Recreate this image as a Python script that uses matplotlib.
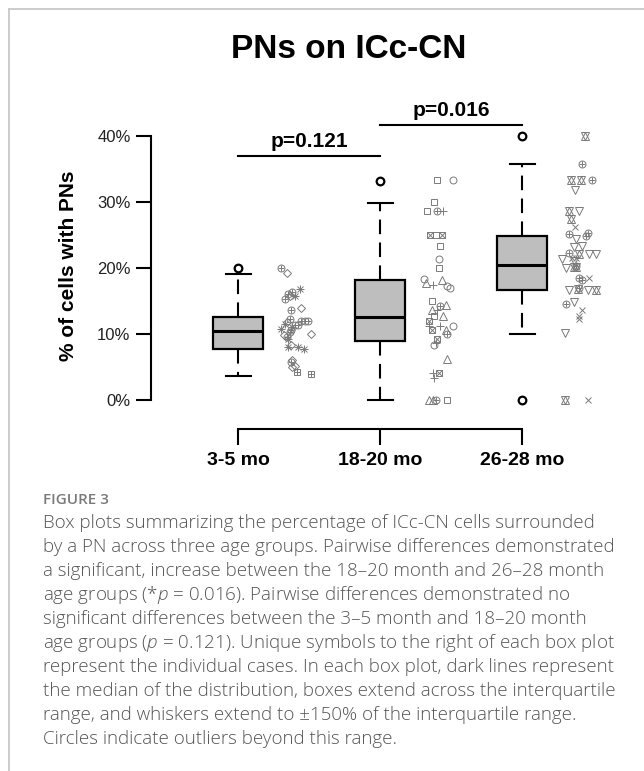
import matplotlib
matplotlib.use('Agg')
import matplotlib.pyplot as plt
from matplotlib.lines import Line2D

plt.rcParams['font.family'] = ['Liberation Sans', 'DejaVu Sans']
plt.rcParams['mathtext.fontset'] = 'custom'
plt.rcParams['mathtext.rm'] = 'Open Sans:light'
plt.rcParams['mathtext.it'] = 'Open Sans:italic:light'

# Age groups
groups = ['3-5 mo', '18-20 mo', '26-28 mo']

# Box plot summaries (% of cells with PNs)
q1 = [7.8, 9.0, 16.6]
medians = [10.5, 12.5, 20.5]
q3 = [12.6, 18.2, 24.9]
whisk_lo = [3.6, 0.0, 10.0]
whisk_hi = [19.1, 29.9, 35.7]
outliers = [[20.0], [33.2], [40.0, 0.0]]

# Individual cases, 3-5 mo
g1_vals = [20.0, 19.3, 16.8, 16.3, 16.0, 15.3, 13.7, 14.0, 11.8, 11.9, 11.9, 11.9,
           11.3, 10.8, 10.0, 10.3, 11.0, 9.5, 9.3, 8.1, 8.4, 8.1, 7.8, 6.1, 5.7,
           5.2, 4.2, 3.9, 15.8, 11.5, 11.3, 10.6, 9.9, 12.2, 5.0, 15.7]
g1_jitter = [0.30, 0.34, 0.43, 0.38, 0.35, 0.33, 0.37, 0.44, 0.34, 0.44, 0.47, 0.49,
             0.40, 0.30, 0.51, 0.36, 0.38, 0.34, 0.35, 0.35, 0.37, 0.42, 0.46, 0.38, 0.37,
             0.40, 0.41, 0.51, 0.40, 0.33, 0.42, 0.37, 0.32, 0.36, 0.38, 0.36]
g1_syms = ['cplus', 'diamond', 'ast', 'cplus', 'cplus', 'cplus', 'cplus', 'diamond', 'diamond',
           'cplus', 'cplus', 'cplus', 'cplus', 'ast', 'diamond', 'cplus', 'ast', 'cplus', 'ast',
           'ast', 'diamond', 'ast', 'ast', 'diamond', 'cplus', 'diamond', 'splus', 'splus',
           'ast', 'ast', 'cplus', 'cplus', 'diamond', 'cplus', 'diamond', 'diamond']

# Individual cases, 18-20 mo
g2_vals = [33.3, 33.3, 30.0, 28.6, 28.6, 28.6, 25.0, 25.0, 25.0, 23.4, 21.4, 20.0,
           18.4, 17.7, 17.4, 18.2, 17.3, 16.9, 15.0, 13.7, 13.7, 14.3, 14.4, 12.7,
           12.7, 12.0, 11.2, 10.6, 11.2, 11.2, 10.6, 10.0, 9.3, 8.7, 8.3, 6.2, 4.1,
           4.1, 3.4, 0.0, 0.0, 0.0, 0.0]
g2_jitter = [0.40, 0.51, 0.38, 0.33, 0.40, 0.44, 0.35, 0.39, 0.43, 0.42, 0.41, 0.41,
             0.31, 0.32, 0.37, 0.43, 0.47, 0.49, 0.36, 0.36, 0.40, 0.42, 0.46, 0.38,
             0.44, 0.34, 0.34, 0.36, 0.42, 0.51, 0.46, 0.47, 0.40, 0.39, 0.38, 0.47, 0.41,
             0.37, 0.38, 0.34, 0.37, 0.39, 0.47]
g2_syms = ['square', 'circle', 'square', 'square', 'cplus', 'plus', 'sqx', 'square', 'sqx',
           'square', 'circle', 'square', 'circle', 'tri', 'plus', 'tri', 'circle', 'circle',
           'square', 'tri', 'plus', 'cplus', 'tri', 'square', 'tri', 'sqx', 'plus', 'sqx',
           'plus', 'circle', 'tri', 'cplus', 'sqx', 'plus', 'circle', 'tri', 'sqx', 'plus',
           'plus', 'tri', 'tri', 'cplus', 'square']

# Individual cases, 26-28 mo
g3_vals = [40.0, 35.7, 33.3, 33.3, 33.3, 31.8, 28.7, 28.7, 27.4, 26.2, 25.1, 24.4,
           25.3, 24.9, 23.2, 23.4, 22.3, 22.1, 22.1, 22.1, 21.3, 21.5, 21.5, 20.0,
           20.2, 20.2, 18.5, 18.2, 18.5, 16.6, 16.8, 16.6, 16.6, 14.5, 14.8, 13.7,
           12.3, 10.1, 0.0, 0.0, 21.0, 20.3, 16.9, 12.8]
g3_jitter = [0.44, 0.42, 0.34, 0.41, 0.49, 0.37, 0.33, 0.40, 0.34, 0.37, 0.33, 0.38,
             0.46, 0.45, 0.36, 0.42, 0.33, 0.40, 0.47, 0.52, 0.28, 0.35, 0.38, 0.31,
             0.36, 0.38, 0.40, 0.42, 0.47, 0.33, 0.39, 0.46, 0.52, 0.31, 0.36, 0.42,
             0.40, 0.30, 0.30, 0.46, 0.36, 0.38, 0.40, 0.40]
g3_syms = ['star', 'cplus', 'star', 'star', 'cplus', 'tdown', 'star', 'tdown', 'star', 'x',
           'cplus', 'tdown', 'cplus', 'cplus', 'tdown', 'tdown', 'cplus', 'star', 'tdown',
           'tdown', 'tdown', 'x', 'x', 'tdown', 'star', 'star', 'cplus', 'cplus', 'x',
           'tdown', 'star', 'tdown', 'star', 'cplus', 'tdown', 'x', 'x', 'tdown', 'star',
           'x', 'tdown', 'cplus', 'cplus', 'x']

p_labels = ['p=0.121', 'p=0.016']
title = 'PNs on ICc-CN'
ylabel = '% of cells with PNs'
fig_label = 'FIGURE 3'
caption = [
    'Box plots summarizing the percentage of ICc-CN cells surrounded',
    'by a PN across three age groups. Pairwise differences demonstrated',
    'a significant, increase between the 18\u201320 month and 26\u201328 month',
    'age groups (*$p$ = 0.016). Pairwise differences demonstrated no',
    'significant differences between the 3\u20135 month and 18\u201320 month',
    'age groups ($p$ = 0.121). Unique symbols to the right of each box plot',
    'represent the individual cases. In each box plot, dark lines represent',
    'the median of the distribution, boxes extend across the interquartile',
    'range, and whiskers extend to \u00b1150% of the interquartile range.',
    'Circles indicate outliers beyond this range.',
]

# marker recipes for the case symbols (R-style pch look)
SYMBOLS = {
    'diamond': [('D', 4.0)],
    'cplus': [('o', 5.0), ('+', 5.0)],
    'ast': [('+', 5.5), ('x', 4.2)],
    'splus': [('s', 4.5), ('+', 4.5)],
    'square': [('s', 4.5)],
    'circle': [('o', 5.0)],
    'tri': [('^', 5.5)],
    'plus': [('+', 6.0)],
    'sqx': [('s', 4.5), ('x', 4.5)],
    'tdown': [('v', 5.5)],
    'star': [('^', 5.5), ('v', 5.5)],
    'x': [('x', 5.0)],
}

W, H = 644, 771
fig = plt.figure(figsize=(W / 100, H / 100), dpi=100)


def px_rect(l, t, r, b):
    return [l / W, 1 - b / H, (r - l) / W, (b - t) / H]


ax = fig.add_axes(px_rect(150.7, 100, 620, 428.5))
ax.set_xlim(0.382, 3.687)
ax.set_ylim(-4.32, 45.45)

stats = []
for i in range(3):
    stats.append(dict(med=medians[i], q1=q1[i], q3=q3[i], whislo=whisk_lo[i],
                      whishi=whisk_hi[i], fliers=outliers[i], label=groups[i]))

ax.bxp(stats, positions=[1, 2, 3], widths=0.352, capwidths=0.18, patch_artist=True,
       boxprops=dict(facecolor='#bebebe', edgecolor='black', linewidth=1.6),
       medianprops=dict(color='black', linewidth=2.2),
       whiskerprops=dict(color='black', linewidth=1.5, linestyle=(0, (7, 4))),
       capprops=dict(color='black', linewidth=1.5),
       flierprops=dict(marker='o', markersize=5.5, markerfacecolor='none',
                       markeredgecolor='black', markeredgewidth=1.6))

# individual cases to the right of each box
for pos, vals, jit, syms in [(1, g1_vals, g1_jitter, g1_syms),
                             (2, g2_vals, g2_jitter, g2_syms),
                             (3, g3_vals, g3_jitter, g3_syms)]:
    for name, parts in SYMBOLS.items():
        xs = [pos + j for j, s in zip(jit, syms) if s == name]
        ys = [v for v, s in zip(vals, syms) if s == name]
        if not xs:
            continue
        for m, size in parts:
            ax.plot(xs, ys, ls='none', marker=m, ms=size, mfc='none',
                    mec='#7a7a7a', mew=0.7, clip_on=False)

# significance brackets
for (a, b), yb, lab in [((1, 2), 37.0, p_labels[0]), ((2, 3), 41.7, p_labels[1])]:
    ax.plot([a, b], [yb, yb], color='black', lw=1.5, clip_on=False)
    ax.annotate(lab, xy=((a + b) / 2, yb), xytext=(0, 6.5), textcoords='offset points',
                ha='center', va='baseline', fontsize=15, fontweight='bold')

# axes styling
for side in ['top', 'right']:
    ax.spines[side].set_visible(False)
ax.spines['left'].set_bounds(0, 40)
ax.spines['bottom'].set_bounds(1, 3)
for side in ['left', 'bottom']:
    ax.spines[side].set_linewidth(1.5)
ax.set_yticks([0, 10, 20, 30, 40])
ax.set_yticklabels([f'{t}%' for t in [0, 10, 20, 30, 40]])
ax.set_xticks([1, 2, 3])
ax.set_xticklabels(groups, fontweight='bold')
ax.tick_params(axis='y', length=11, width=1.5, pad=3.5, labelsize=12, labelcolor='#222222')
ax.tick_params(axis='x', length=11.5, width=1.5, pad=5.5, labelsize=14)
ax.patch.set_alpha(0)

fig.text(68 / W, 1 - 266 / H, ylabel, rotation=90, ha='center', va='center',
         fontsize=15, fontweight='bold')
fig.text(349 / W, 1 - 50 / H, title, ha='center', va='center', fontsize=24,
         fontweight='bold')

# panel frame
fig.add_artist(Line2D([9 / W, 9 / W], [0, 1 - 9 / H], color='#c4c4c4', lw=1.2))
fig.add_artist(Line2D([9 / W, 1], [1 - 9 / H, 1 - 9 / H], color='#c4c4c4', lw=1.2))

# caption
fig.text(43 / W, 1 - 504 / H, fig_label, ha='left', va='baseline', fontsize=11,
         fontweight='semibold', color='#7a7a7a', family=['Open Sans', 'DejaVu Sans'])
for i, line in enumerate(caption):
    fig.text(43 / W, 1 - (528 + 24 * i) / H, line, ha='left', va='baseline',
             fontsize=13.5, fontweight='light', color='#555555',
             family=['Open Sans', 'DejaVu Sans'])

fig.savefig('out.png', dpi=100)
